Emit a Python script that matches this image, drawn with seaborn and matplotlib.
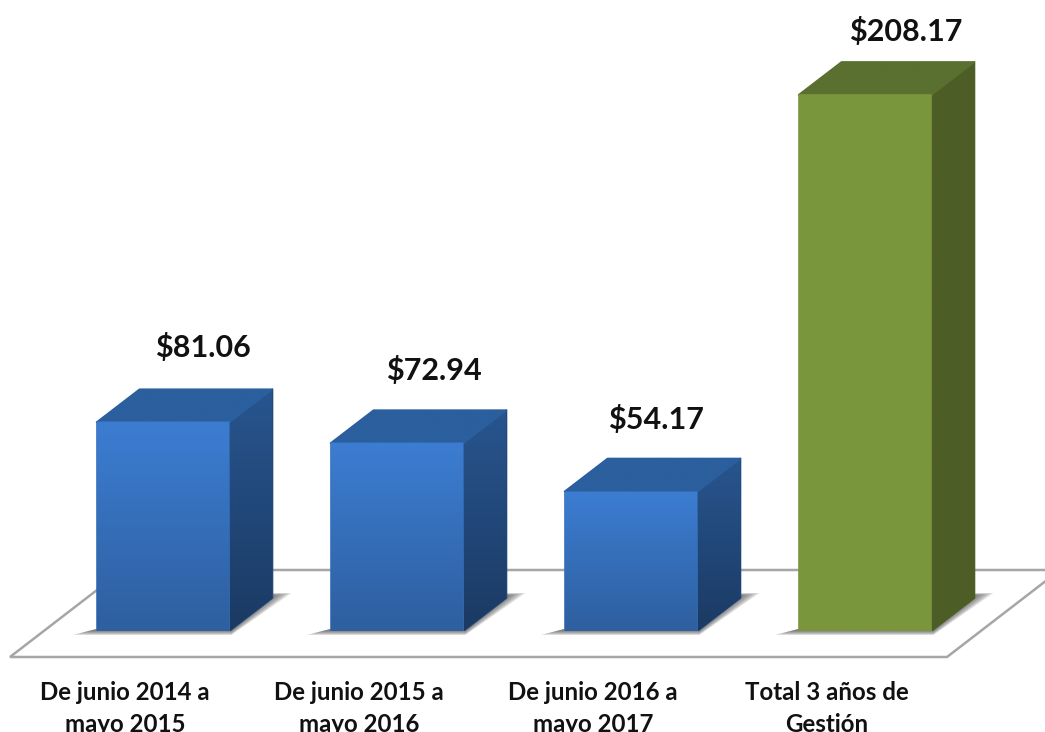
import numpy as np
import seaborn as sns
import matplotlib.pyplot as plt
from matplotlib.colors import LinearSegmentedColormap
from matplotlib.patches import Polygon
from matplotlib.transforms import ScaledTranslation

periodos = ['De junio 2014 a\nmayo 2015', 'De junio 2015 a\nmayo 2016',
            'De junio 2016 a\nmayo 2017', 'Total 3 años de\nGestión']
montos = [81.06, 72.94, 54.17, 208.17]
etiquetas = ['$81.06', '$72.94', '$54.17', '$208.17']
colores = ['#3a78c8', '#3a78c8', '#3a78c8', '#7a953c']
# label offsets from the top centre of each bar, in pixels
offset_x = [39.5, 37, 25, 41]
offset_y = [75, 73, 72, 63]

sns.set_theme(style='white')
plt.rcParams['font.family'] = ['Lato', 'DejaVu Sans']

fig = plt.figure(figsize=(10.45, 7.32), dpi=100)
ax = fig.add_axes([0, 101 / 732, 1, 631 / 732])

sns.barplot(x=periodos, y=montos, hue=periodos, palette=colores, legend=False,
            width=0.568, saturation=1, linewidth=0, ax=ax, zorder=5)

# 1 px in data units
px = 1 / 234
py = 1 / 2.575
ax.set_xlim(-163 * px, 882 * px)
ax.set_ylim(0, 631 * py)
sns.despine(ax=ax, left=True, bottom=True)
ax.set_yticks([])
ax.set_xlabel('')
ax.tick_params(axis='x', length=0, pad=36)
corrimiento = ScaledTranslation(-0.38, 0, fig.dpi_scale_trans)
for lab in ax.get_xticklabels():
    lab.set_fontsize(17.3)
    lab.set_fontweight('bold')
    lab.set_color('#111111')
    lab.set_linespacing(1.48)
    lab.set_transform(lab.get_transform() + corrimiento)

# piso
x0, x1 = ax.get_xlim()
frente = -26 * py
fondo = 61 * py
piso = Polygon([(x0 + 10 * px, frente), (x0 + 947 * px, frente),
                (x0 + 1060 * px, fondo), (x0 + 123 * px, fondo)],
               closed=True, fc='white', ec='#a6a6a6', lw=1.8, zorder=1, clip_on=False)
ax.add_patch(piso)

azul = ['#3c7dd2', '#2e5f9f', '#2b5f9e', '#28558f', '#1b3a63']
verde = ['#7a963d', '#7a963d', '#5a7030', '#4c5e26', '#4c5e26']
dx = 43 * px
dy = 33 * py


def degradado(puntos, arriba, abajo, z):
    # gradient image clipped to one face of the box, solid polygon under it closes the seams
    cmap = LinearSegmentedColormap.from_list('g', [arriba, abajo])
    cara = Polygon(puntos, closed=True, fc=cmap(0.5), ec=cmap(0.5), lw=1.2,
                   joinstyle='round', zorder=z - 0.1)
    ax.add_patch(cara)
    xy = cara.get_xy()
    im = ax.imshow(np.linspace(0, 1, 256).reshape(-1, 1), cmap=cmap, aspect='auto',
                   extent=[xy[:, 0].min(), xy[:, 0].max(), xy[:, 1].min(), xy[:, 1].max()],
                   origin='upper', zorder=z)
    im.set_clip_path(cara)


tonos = [azul, azul, azul, verde]
for barra, texto, tono, ox, oy in zip(ax.patches, etiquetas, tonos, offset_x, offset_y):
    izq = barra.get_x()
    der = izq + barra.get_width()
    alto = barra.get_height()

    # sombra, stacked polygons to fake the blur
    for i in range(7):
        s = i * 2.2
        sombra = Polygon([(izq - (24 - s * 1.4) * px, -(4 - s * 0.35) * py),
                          (der + 2 * px, -(4 - s * 0.35) * py),
                          (der + (62 - s * 1.4) * px, (38 - s * 0.2) * py),
                          (der + 30 * px, (38 - s * 0.2) * py),
                          (izq, 2 * py)],
                         closed=True, fc='#444444', ec='none', alpha=0.16, zorder=2, clip_on=False)
        ax.add_patch(sombra)

    degradado([(der, 0), (der + dx, dy), (der + dx, alto + dy), (der, alto)], tono[3], tono[4], 4)
    degradado([(izq, alto), (der, alto), (der + dx, alto + dy), (izq + dx, alto + dy)],
              tono[2], tono[2], 4.5)
    degradado([(izq, 0), (der, 0), (der, alto), (izq, alto)], tono[0], tono[1], 5.5)

    ax.annotate(texto, (izq + barra.get_width() / 2, alto), xytext=(ox, oy),
                textcoords='offset pixels', ha='center', va='center', fontsize=22,
                fontweight='bold', color='#111111')

ax.set_xlim(x0, x1)
ax.set_ylim(0, 631 * py)
fig.savefig('out.png', dpi=100)
